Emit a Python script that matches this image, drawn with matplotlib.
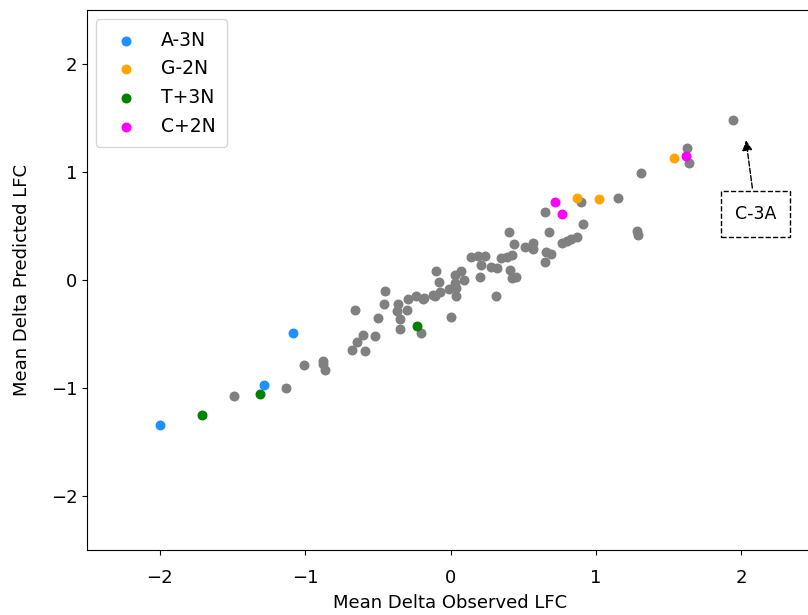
import matplotlib
matplotlib.use("Agg")
import matplotlib.pyplot as plt

# background guides (grey)
gray_x = [1.94, 1.63, 1.64, 1.31, 1.15, 0.90, 0.65, 0.91, 0.68, 1.28, 1.29,
          0.77, 0.80, 0.83, 0.87, 0.57, 0.57, 0.66, 0.69, 0.65, 0.40, 0.44,
          0.51, 0.14, 0.19, 0.24, 0.21, 0.28, 0.32, 0.35, 0.39, 0.42, 0.41,
          0.45, 0.42, 0.20, 0.31, -0.10, -0.08, 0.03, 0.07, 0.09, 0.04, 0.03,
          -0.01, -0.07, -0.11, -0.18, 0.04, 0.00, -0.45, -0.66, -0.46, -0.36,
          -0.37, -0.35, -0.50, -0.29, -0.30, -0.24, -0.19, -0.35, -0.20,
          -0.52, -0.60, -0.64, -0.68, -0.59, -0.88, -1.01, -0.86, -0.88,
          -1.49, -1.13, -0.12]
gray_y = [1.48, 1.22, 1.08, 0.99, 0.76, 0.72, 0.63, 0.52, 0.44, 0.45, 0.42,
          0.34, 0.36, 0.38, 0.40, 0.34, 0.29, 0.26, 0.24, 0.17, 0.44, 0.33,
          0.31, 0.21, 0.22, 0.22, 0.14, 0.12, 0.11, 0.20, 0.21, 0.23, 0.09,
          0.03, 0.02, 0.03, -0.15, 0.08, -0.02, 0.05, 0.08, 0.00, -0.07, -0.03,
          -0.08, -0.11, -0.15, -0.17, -0.15, -0.34, -0.10, -0.28, -0.22, -0.22,
          -0.29, -0.36, -0.35, -0.18, -0.28, -0.15, -0.18, -0.45, -0.49,
          -0.52, -0.51, -0.57, -0.65, -0.66, -0.78, -0.79, -0.83, -0.75,
          -1.07, -1.00, -0.14]

# highlighted groups
groups = ["A-3N", "G-2N", "T+3N", "C+2N"]
group_colors = ["dodgerblue", "orange", "green", "magenta"]
a3n_x = [-2.00, -1.28, -1.08]
a3n_y = [-1.34, -0.97, -0.49]
g2n_x = [0.87, 1.02, 1.54]
g2n_y = [0.76, 0.75, 1.13]
t3n_x = [-1.71, -1.31, -0.23]
t3n_y = [-1.25, -1.06, -0.43]
c2n_x = [0.72, 0.77, 1.62]
c2n_y = [0.72, 0.61, 1.15]

fig = plt.figure(figsize=(8.08, 6.15), dpi=100)
ax = fig.add_axes([0.1077, 0.1057, 0.8997, 0.878])

ax.scatter(gray_x, gray_y, s=38, color="grey")
for name, col, xs, ys in zip(groups, group_colors,
                             [a3n_x, g2n_x, t3n_x, c2n_x],
                             [a3n_y, g2n_y, t3n_y, c2n_y]):
    ax.scatter(xs, ys, s=38, color=col, label=name)

ax.annotate("C-3A", xy=(2.03, 1.32), xytext=(2.10, 0.61),
            ha="center", va="center", fontsize=12.5,
            bbox=dict(boxstyle="square,pad=0.8", fc="white", ec="black", ls="--"),
            arrowprops=dict(arrowstyle="-|>", ls="--", color="black",
                            mutation_scale=15))

ax.set_xlim(-2.5, 2.5)
ax.set_ylim(-2.5, 2.5)
ax.set_xticks([-2, -1, 0, 1, 2])
ax.set_yticks([-2, -1, 0, 1, 2])
ax.tick_params(labelsize=13)
ax.tick_params(axis="x", pad=10)
ax.set_xlabel("Mean Delta Observed LFC", fontsize=13, labelpad=5)
ax.set_ylabel("Mean Delta Predicted LFC", fontsize=13, labelpad=14)
ax.legend(loc="upper left", fontsize=13.5, borderpad=0.6, labelspacing=0.52,
          handletextpad=0.85)

fig.savefig("out.png", dpi=100)
